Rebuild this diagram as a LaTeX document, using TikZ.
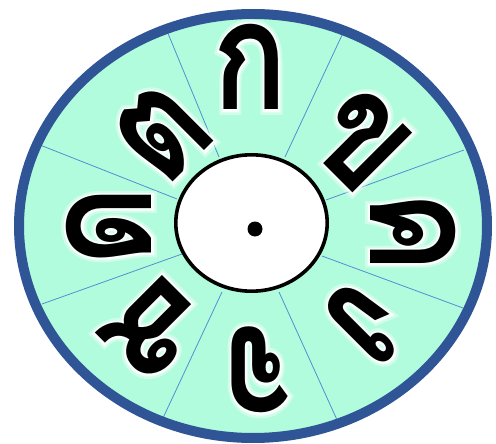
\documentclass[tikz,border=0pt]{standalone}
\usepackage{fontspec}
\newfontfamily\thaiK[Script=Thai]{Loma}
\newfontfamily\thaiG[Script=Thai,BoldFeatures={FakeBold=7}]{Loma}
\newfontfamily\thaiH[Script=Thai,BoldFeatures={FakeBold=3.5}]{Loma}
\definecolor{wheelfill}{RGB}{176,252,220}
\definecolor{rimblue}{RGB}{47,85,151}
\definecolor{spokeblue}{RGB}{88,140,210}
\newcommand\wheelletter[4]{%
  \node[glowfar,rotate=#3,xscale=0.82,yshift=21pt] at #2 {#4};
  \node[glownear,rotate=#3,xscale=0.82,yshift=21pt] at #2 {#4};
  \node[letter,rotate=#3,xscale=0.82,yshift=21pt] (#1) at #2 {#4};}
\begin{document}
\begin{tikzpicture}[x=1pt,y=-1pt,
  letter/.style={inner sep=0pt,font=\thaiK\bfseries\fontsize{152}{152}\selectfont,text=black},
  glowfar/.style={inner sep=0pt,font=\thaiG\bfseries\fontsize{152}{152}\selectfont,text=white,text opacity=0.4},
  glownear/.style={inner sep=0pt,font=\thaiH\bfseries\fontsize{152}{152}\selectfont,text=white,text opacity=0.8},
  spoke/.style={draw=spokeblue,line width=0.8pt},
  rim/.style={draw=rimblue,line width=10pt},
  hub/.style={draw=black,line width=3.6pt,fill=white}]
\useasboundingbox (0,0) rectangle (496,444);
\fill[wheelfill] (253,226) ellipse [x radius=236, y radius=214];
% spokes
\coordinate (o1) at (167,31);  \coordinate (i1) at (219,157);
\coordinate (o2) at (343,33);  \coordinate (i2) at (285,157);
\coordinate (o3) at (464,150); \coordinate (i3) at (326,200);
\coordinate (o4) at (463,308); \coordinate (i4) at (322,256);
\coordinate (o5) at (338,422); \coordinate (i5) at (279,292);
\coordinate (o6) at (163,418); \coordinate (i6) at (222,292);
\coordinate (o7) at (42,304);  \coordinate (i7) at (182,254);
\coordinate (o8) at (40,145);  \coordinate (i8) at (177,199);
\foreach \k in {1,...,8}{\draw[spoke] (o\k) -- (i\k);}
\draw[rim] (253,226) ellipse [x radius=234, y radius=212];
\draw[hub] (251.5,223) ellipse [x radius=75.7, y radius=68.2];
\fill[black] (255,229) circle [radius=7.5];
% letters
\wheelletter{ka}{(250,88)}{0}{ก}
\wheelletter{kho}{(346,155)}{-45}{ข}
\wheelletter{khw}{(392,232)}{-90}{ค}
\wheelletter{ngo}{(352,307)}{-135}{ง}
\wheelletter{cho}{(258,349)}{180}{จ}
\wheelletter{cha}{(168,314)}{135}{ช}
\wheelletter{do}{(130,226)}{90}{ด}
\wheelletter{to}{(177,148)}{45}{ต}
\end{tikzpicture}
\end{document}
